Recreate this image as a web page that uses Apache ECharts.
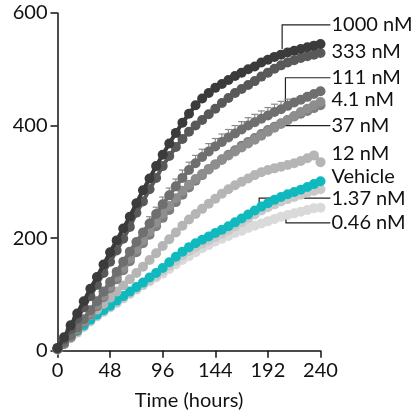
<!DOCTYPE html>
<html>
<head>
<meta charset="utf-8">
<script src="https://cdn.jsdelivr.net/npm/echarts@6/dist/echarts.min.js"></script>
<style>
html,body{margin:0;padding:0;background:#fff;}
#c{width:420px;height:416px;}
</style>
</head>
<body>
<div id="c"></div>
<script>
// ---- data ----
const hours = [0,6,12,18,24,30,36,42,48,54,60,66,72,78,84,90,96,102,108,114,120,126,132,138,144,150,156,162,168,174,180,186,192,198,204,210,216,222,228,234,240];
const nM1000 = [5,24,45,66,88,110,131,153,175,196,217,238,262,285,306,328,348,368,387,405,421,436,448,458,467,474,481,488,494,500,505,512,517,522,526,530,533,536,539,542,545];
const nM333 = [4,20,38,57,77,97,117,138,158,178,199,220,245,265,287,307,328,346,362,376,389,400,410,420,430,440,449,458,465,472,479,487,494,501,507,512,516,520,523,526,529];
const nM111 = [3,14,27,41,56,72,88,105,122,140,158,176,193,210,226,243,260,276,292,307,321,333,344,354,363,371,379,386,393,400,406,412,418,424,429,435,441,446,451,456,461];
const err111 = [0,0,0,0,0,0,0,0,0,0,0,0,0,0,12,12,13,13,13,14,14,14,14,14,14,14,14,14,14,14,14,14,14,14,14,12,0,0,0,0,0];
const nM41 = [3,13,25,38,52,67,82,98,114,131,147,164,180,196,212,227,243,257,271,284,295,305,314,323,331,339,347,354,361,368,375,382,389,396,403,410,417,424,430,436,442];
const nM37 = [3,12,24,36,50,64,79,95,111,127,143,159,175,191,206,221,236,250,264,277,290,302,312,322,331,340,348,356,364,371,378,385,392,398,404,410,416,421,426,431,436];
const nM12 = [3,14,27,40,52,63,73,83,94,105,116,127,138,149,161,173,186,198,210,222,233,243,252,261,270,279,287,294,300,306,312,317,321,324,327,330,333,337,342,347,335];
const vehicle = [3,13,24,35,45,55,64,72,80,89,97,105,113,121,130,138,147,157,167,176,184,191,197,203,209,215,221,228,235,242,249,256,262,268,273,278,282,286,291,296,301];
const nM137 = [2,12,22,32,42,52,61,69,77,85,93,101,109,117,125,133,142,151,160,169,177,184,190,196,202,208,214,221,228,235,242,249,255,260,265,269,273,277,281,284,287];
const nM046 = [2,12,23,33,43,53,62,70,78,86,94,102,109,116,123,130,137,145,153,161,168,175,182,188,194,199,204,209,213,218,222,226,230,234,238,241,244,247,250,253,254];

const xTicks = [0,48,96,144,192,240];
const yTicks = [0,200,400,600];
const xTitle = 'Time (hours)';

// labels: [text, label value (y), connector path points in data space or null]
const labelNames = ['1000 nM','333 nM','111 nM','4.1 nM','37 nM','12 nM','Vehicle','1.37 nM','0.46 nM'];
const labelVals  = [579,531,485,447,400,351,309,271,227];
const labelHour = 250;
const connectors = [
  [[249,579],[205,579],[205,536]],
  null,
  [[249,485],[208,485],[208,440]],
  null,
  [[249,400],[207,400],[207,414]],
  null,
  null,
  [[249,271],[184,271],[184,255]],
  [[249,227],[208.5,227],[208.5,246]]
];

const FONT = 'Lato, "Open Sans", sans-serif';
const pair = arr => hours.map((h,i)=>[h,arr[i]]);

function lineSeries(name, arr, color, z){
  return {
    name, type:'line', data: pair(arr), z,
    symbol:'circle', symbolSize:10, showSymbol:true,
    lineStyle:{color, width:4}, itemStyle:{color, borderWidth:0},
    emphasis:{disabled:true}, animation:false
  };
}

const chart = echarts.init(document.getElementById('c'), null, {renderer:'canvas'});
const option = {
  animation:false,
  grid:{left:57.5, right:99.5, top:13, bottom:65.3, containLabel:false},
  xAxis:{
    type:'value', min:0, max:240, interval:48,
    axisLine:{show:true, lineStyle:{color:'#111', width:1.5}},
    axisTick:{show:true, length:7, lineStyle:{color:'#111', width:1.5}},
    axisLabel:{margin:10, color:'#111', fontSize:20, fontFamily:FONT,
      formatter:v=> xTicks.includes(v) ? String(v) : ''},
    splitLine:{show:false},
    name:xTitle, nameLocation:'middle', nameGap:40,
    nameTextStyle:{color:'#111', fontSize:20, fontFamily:FONT}
  },
  yAxis:{
    type:'value', min:0, max:600, interval:200,
    axisLine:{show:true, lineStyle:{color:'#111', width:1.5}},
    axisTick:{show:true, length:7, lineStyle:{color:'#111', width:1.5}},
    axisLabel:{margin:10, color:'#111', fontSize:20, fontFamily:FONT,
      formatter:v=> yTicks.includes(v) ? String(v) : ''},
    splitLine:{show:false}
  },
  series:[
    lineSeries('0.46 nM', nM046, '#dadada', 2),
    lineSeries('1.37 nM', nM137, '#c9c9c9', 3),
    lineSeries('Vehicle', vehicle, '#10b9bd', 4),
    lineSeries('12 nM', nM12, '#b5b5b5', 5),
    lineSeries('37 nM', nM37, '#7d7d7d', 6),
    lineSeries('4.1 nM', nM41, '#8e8e8e', 7),
    {
      name:'111 err', type:'custom', z:7.5, animation:false,
      data: hours.map((h,i)=>[h,nM111[i],err111[i]]),
      renderItem:(params, api)=>{
        const e = api.value(2);
        if(!e) return null;
        const p = api.coord([api.value(0), api.value(1)]);
        const t = api.coord([api.value(0), api.value(1)+e]);
        const st = {stroke:'#8a8a8a', lineWidth:1.2};
        return {type:'group', children:[
          {type:'line', shape:{x1:p[0],y1:p[1],x2:t[0],y2:t[1]}, style:st},
          {type:'line', shape:{x1:t[0]-3.5,y1:t[1],x2:t[0]+3.5,y2:t[1]}, style:st}
        ]};
      }
    },
    lineSeries('111 nM', nM111, '#6f6f6f', 8),
    lineSeries('333 nM', nM333, '#595959', 9),
    lineSeries('1000 nM', nM1000, '#3b3b3b', 10)
  ]
};
chart.setOption(option);

const toPx = p => chart.convertToPixel({xAxisIndex:0, yAxisIndex:0}, p);
const graphics = [];
labelNames.forEach((t,i)=>{
  const p = toPx([labelHour, labelVals[i]]);
  graphics.push({type:'text', x:p[0], y:p[1], z:20,
    style:{text:t, fill:'#111', font:'20px ' + FONT, textAlign:'left', textVerticalAlign:'middle'}});
  const c = connectors[i];
  if(c){
    graphics.push({type:'polyline', z:0, silent:true,
      shape:{points:c.map(toPx)}, style:{stroke:'#222', lineWidth:1.2, fill:null}});
  }
});
chart.setOption({graphic:graphics});
</script>
</body>
</html>
